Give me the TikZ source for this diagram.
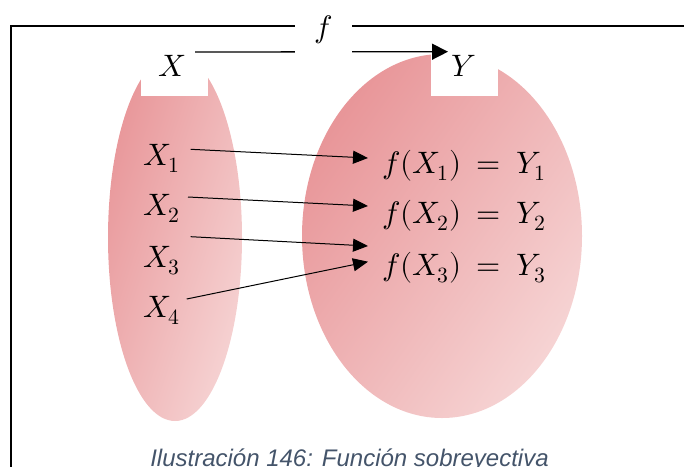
\documentclass[tikz,border=0pt]{standalone}
\usepackage{fontspec}
\usepackage{unicode-math}
\newfontfamily\capfont{Liberation Sans}
\usetikzlibrary{arrows.meta}
\definecolor{pinkdark}{RGB}{232,149,152}
\definecolor{pinklight}{RGB}{246,212,212}
\definecolor{capgray}{RGB}{68,84,106}
\newcommand{\wideeq}{\thickmuskip=9mu\relax}
\begin{document}
\begin{tikzpicture}[x=1pt,y=-1pt,
  setshade/.style={top color=pinkdark,bottom color=pinklight,shading angle=#1},
  whitebox/.style={fill=white,draw=none,inner sep=0pt},
  lbl/.style={inner sep=0pt,font=\fontsize{31}{36}\selectfont},
  map/.style={line width=1pt,-{Triangle[length=15pt,width=13pt]}},
  frameline/.style={line width=2pt}]
\useasboundingbox (0,0) rectangle (684,466);
\clip (0,0) rectangle (684,466);
% sets
\shade[setshade=72] (175,237.5) ellipse [x radius=67pt, y radius=183.5pt];
\shade[setshade=55] (442,236) ellipse [x radius=140pt, y radius=182pt];
% white label boxes
\node[whitebox,minimum width=67pt,minimum height=56pt] (Xbox) at (174.2,68) {};
\node[whitebox,minimum width=67pt,minimum height=56pt] (Ybox) at (464.4,68) {};
% frame
\draw[frameline] (11,480) -- (11,26) -- (700,26);
% top mapping arrow
\coordinate (fs) at (195,52);
\coordinate (fe) at (448,51.7);
\draw[line width=1.3pt,-{Triangle[length=16pt,width=16pt]}] (fs) -- (fe);
\node[whitebox,minimum width=57pt,minimum height=42pt] (fbox) at (323.5,36) {};
\node[lbl,anchor=base] (f) at (323.5,37) {$f$};
\node[lbl,anchor=base] (X) at (172.5,76) {$X$};
\node[lbl,anchor=base] (Y) at (464,76) {$Y$};
% elements
\node[lbl,anchor=base west] (x1) at (143,165) {$X_1$};
\node[lbl,anchor=base west] (x2) at (143,215) {$X_2$};
\node[lbl,anchor=base west] (x3) at (143,267) {$X_3$};
\node[lbl,anchor=base west] (x4) at (143,317) {$X_4$};
\node[lbl,anchor=base west] (y1) at (382,173) {\wideeq$f(X_1)=Y_1$};
\node[lbl,anchor=base west] (y2) at (382,223) {\wideeq$f(X_2)=Y_2$};
\node[lbl,anchor=base west] (y3) at (382,275) {\wideeq$f(X_3)=Y_3$};
% mapping arrows
\coordinate (s1) at (190.7,149.3);
\coordinate (s2) at (188,197);
\coordinate (s3) at (190.7,236.7);
\coordinate (s4) at (186.7,299);
\coordinate (e1) at (368,158);
\coordinate (e2) at (368,206);
\coordinate (e3) at (368,246);
\coordinate (e4) at (368,261.7);
\draw[map] (s1) -- (e1);
\draw[map] (s2) -- (e2);
\draw[map] (s3) -- (e3);
\draw[map] (s4) -- (e4);
% caption
\node[inner sep=0pt,anchor=base,text=capgray,font=\capfont\itshape\fontsize{24}{28}\selectfont] (cap) at (349.5,466) {Ilustración 146: Función sobreyectiva};
\end{tikzpicture}
\end{document}
